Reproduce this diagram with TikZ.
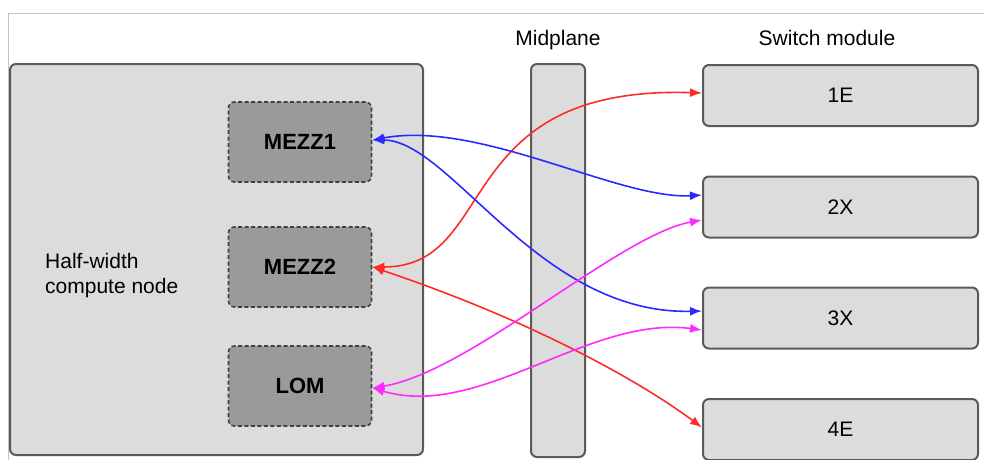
\documentclass[tikz,border=0pt]{standalone}
\usepackage{fontspec}
\setmainfont{Liberation Sans}
\usetikzlibrary{arrows.meta,calc}
\definecolor{boxfill}{HTML}{DCDCDC}
\definecolor{boxline}{HTML}{5A5A5A}
\definecolor{cardfill}{HTML}{9A9A9A}
\definecolor{cardline}{HTML}{404040}
\definecolor{framegray}{HTML}{C4C4C4}
\definecolor{linkred}{HTML}{FF2A2A}
\definecolor{linkblue}{HTML}{2A2AFF}
\definecolor{linkmag}{HTML}{FF2AFF}
\begin{document}
\begin{tikzpicture}[x=1pt,y=-1pt,
  panel/.style={draw=boxline, line width=2pt, fill=boxfill, rounded corners=6pt, inner sep=0pt},
  card/.style={draw=cardline, line width=1.6pt, dash pattern=on 4pt off 2.5pt, fill=cardfill, rounded corners=6pt,
    minimum width=143pt, minimum height=80pt, inner sep=0pt, font=\fontsize{22}{25}\selectfont\bfseries},
  switchbox/.style={panel, minimum width=275pt, minimum height=61pt, font=\fontsize{21}{25}\selectfont},
  link/.style={line width=1.6pt, {Latex[length=12pt,width=9pt]}-{Latex[length=12pt,width=9pt]}},
  lbl/.style={font=\fontsize{21}{25}\selectfont, inner sep=0pt}]
\useasboundingbox (0,0) rectangle (984,459);
% frame
\draw[framegray, line width=1pt] (8,460) -- (8,13) -- (985,13);
% compute node
\node[panel, minimum width=413pt, minimum height=391pt] (cn) at (216.5,259.5) {};
\node[lbl, anchor=west, align=left] (cnl) at (45,276) {Half-width\\compute node};
\node[card] (mz1) at (300,142) {MEZZ1};
\node[card] (mz2) at (300,267) {MEZZ2};
\node[card] (lom) at (300,386) {LOM};
% midplane
\node[panel, minimum width=54pt, minimum height=393pt] (mp) at (558,260.5) {};
\node[lbl, anchor=base] (mpl) at (558,45) {Midplane};
% switch modules
\node[lbl, anchor=base] (swl) at (827,45) {Switch module};
\node[switchbox] (s1) at (840.5,95.5) {1E};
\node[switchbox] (s2) at (840.5,207) {2X};
\node[switchbox] (s3) at (840.5,318) {3X};
\node[switchbox] (s4) at (840.5,429.5) {4E};
% endpoints
\coordinate (a1) at ([yshift=2pt]mz1.east);
\coordinate (a2) at (mz2.east);
\coordinate (a3) at ([yshift=-2pt]lom.east);
\coordinate (e1) at ([yshift=2.5pt]s1.west);
\coordinate (b2) at ([yshift=12pt]s2.west);
\coordinate (m2) at ([yshift=-13pt]s2.west);
\coordinate (b3) at ([yshift=7pt]s3.west);
\coordinate (m3) at ([yshift=-12pt]s3.west);
\coordinate (e4) at ([yshift=2pt]s4.west);
% links
\draw[link, linkred] (a2) .. controls +(128,0) and +(-253,-8) .. (e1);
\draw[link, linkred] (a2) .. controls +(158,53) and +(-63,-47) .. (e4);
\draw[link, linkblue] (a1) .. controls +(108,-20) and +(-83,5) .. (b2);
\draw[link, linkblue] (a1) .. controls +(78,0) and +(-163,4) .. (b3);
\draw[link, linkmag] (a3) .. controls +(98,-16) and +(-83,15) .. (m2);
\draw[link, linkmag] (a3) .. controls +(108,32) and +(-113,-15) .. (m3);
\end{tikzpicture}
\end{document}
